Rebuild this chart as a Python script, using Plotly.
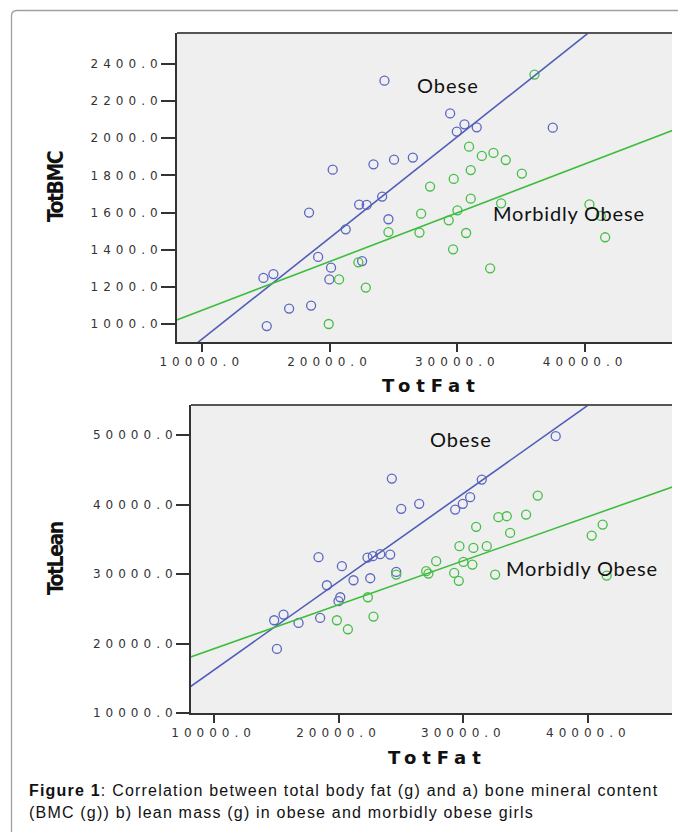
import plotly.graph_objects as go

W, H = 678, 832

# ---------------- data: panel a (TotFat vs TotBMC) ----------------
bmc_obese_fat = [24300, 29440, 30560, 31520, 29960, 37470, 20250, 23440, 25050, 26520,
                 24120, 22320, 22910, 18400, 24610, 21270, 19110, 22550, 20120, 15610,
                 14830, 19990, 16840, 18560, 15090]
bmc_obese_bmc = [2310, 2134, 2075, 2059, 2036, 2057, 1831, 1860, 1885, 1896,
                 1686, 1643, 1641, 1600, 1564, 1510, 1361, 1339, 1303, 1269,
                 1248, 1240, 1083, 1099, 989]
bmc_morbid_fat = [36040, 30920, 31920, 32830, 33790, 31050, 29720, 35050, 27870, 31050,
                  30010, 33430, 40340, 41230, 41570, 27170, 29330, 24610, 27040, 30690,
                  29670, 32570, 22260, 20750, 22840, 19940]
bmc_morbid_bmc = [2343, 1955, 1905, 1921, 1883, 1829, 1781, 1810, 1740, 1675,
                  1612, 1650, 1644, 1582, 1467, 1594, 1558, 1495, 1492, 1490,
                  1402, 1300, 1332, 1240, 1196, 1000]
# fit lines
fit_fat = [8000, 47000]
bmc_fit_obese = [808, 2935]
bmc_fit_morbid = [1020, 2047]

# ---------------- data: panel b (TotFat vs TotLean) ----------------
lean_obese_fat = [37390, 24270, 31470, 30540, 29950, 29340, 25020, 26460, 18400, 20270,
                  22320, 22750, 23340, 24140, 24620, 19070, 21200, 22540, 20140, 20000,
                  15600, 14850, 16800, 18530, 15070]
lean_obese_lean = [49860, 43760, 43610, 41070, 40110, 39290, 39390, 40110, 32430, 31130,
                   32380, 32570, 32860, 32810, 30310, 28390, 29110, 29400, 26660, 26090,
                   24170, 23350, 22970, 23690, 19220]
lean_morbid_fat = [35950, 35020, 33470, 32800, 31020, 33740, 41150, 40270, 29680, 30800,
                   31870, 30000, 30720, 27820, 27020, 29260, 29630, 32540, 41470, 24620,
                   27200, 22350, 19870, 20750, 22800]
lean_morbid_lean = [41310, 38570, 38330, 38190, 36800, 35930, 37130, 35550, 34010, 33770,
                    34010, 31750, 31370, 31850, 30410, 30170, 29020, 29930, 29780, 29930,
                    30070, 26660, 23350, 22050, 23880]
lean_fit_obese = [13604, 63259]
lean_fit_morbid = [17948, 42721]

# ---------------- ticks ----------------
fat_ticks = [10000, 20000, 30000, 40000]
bmc_ticks = [1000, 1200, 1400, 1600, 1800, 2000, 2200, 2400]
lean_ticks = [10000, 20000, 30000, 40000, 50000]

BLUE_M = "#5b67c2"
GREEN_M = "#45be45"
BLUE_L = "#4f5db8"
GREEN_L = "#3dbd3d"
AX = "#333333"


def tt(vals):
    return ['<span style="letter-spacing:5px">%.1f</span>' % v for v in vals]


def marker(c):
    return dict(symbol="circle-open", size=9, color=c, line=dict(width=1.3, color=c))


fig = go.Figure()

# panel a
fig.add_trace(go.Scatter(x=bmc_obese_fat, y=bmc_obese_bmc, mode="markers",
                         marker=marker(BLUE_M), xaxis="x", yaxis="y", showlegend=False))
fig.add_trace(go.Scatter(x=bmc_morbid_fat, y=bmc_morbid_bmc, mode="markers",
                         marker=marker(GREEN_M), xaxis="x", yaxis="y", showlegend=False))
fig.add_trace(go.Scatter(x=fit_fat, y=bmc_fit_obese, mode="lines",
                         line=dict(color=BLUE_L, width=1.6), xaxis="x", yaxis="y", showlegend=False))
fig.add_trace(go.Scatter(x=fit_fat, y=bmc_fit_morbid, mode="lines",
                         line=dict(color=GREEN_L, width=1.6), xaxis="x", yaxis="y", showlegend=False))

# panel b
fig.add_trace(go.Scatter(x=lean_obese_fat, y=lean_obese_lean, mode="markers",
                         marker=marker(BLUE_M), xaxis="x2", yaxis="y2", showlegend=False))
fig.add_trace(go.Scatter(x=lean_morbid_fat, y=lean_morbid_lean, mode="markers",
                         marker=marker(GREEN_M), xaxis="x2", yaxis="y2", showlegend=False))
fig.add_trace(go.Scatter(x=fit_fat, y=lean_fit_obese, mode="lines",
                         line=dict(color=BLUE_L, width=1.6), xaxis="x2", yaxis="y2", showlegend=False))
fig.add_trace(go.Scatter(x=fit_fat, y=lean_fit_morbid, mode="lines",
                         line=dict(color=GREEN_L, width=1.6), xaxis="x2", yaxis="y2", showlegend=False))

tickfont = dict(family="DejaVu Sans", size=12, color=AX)
common = dict(showgrid=False, zeroline=False, showline=True, linecolor=AX, linewidth=2,
              ticks="outside", tickwidth=2, tickcolor=AX, tickfont=tickfont, automargin=False)

px2x = lambda px: px / W
px2y = lambda py: 1 - py / H

fig.update_layout(
    template="none",
    width=W, height=H,
    margin=dict(l=0, r=0, t=0, b=0, pad=0, autoexpand=False),
    paper_bgcolor="white",
    plot_bgcolor="#efefef",
    hovermode=False,
    xaxis=dict(domain=[px2x(177), px2x(672)], range=[8067, 46800], anchor="y",
               tickvals=fat_ticks, ticktext=tt(fat_ticks), ticklen=8, **common),
    yaxis=dict(domain=[px2y(342), px2y(33)], range=[903, 2567], anchor="x",
               tickvals=bmc_ticks, ticktext=tt(bmc_ticks), ticklen=14,
               ticklabelstandoff=-4, **common),
    xaxis2=dict(domain=[px2x(191), px2x(672)], range=[8190, 46700], anchor="y2",
                tickvals=fat_ticks, ticktext=tt(fat_ticks), ticklen=8, **common),
    yaxis2=dict(domain=[px2y(713), px2y(405)], range=[9990, 54350], anchor="x2",
                tickvals=lean_ticks, ticktext=tt(lean_ticks), ticklen=13,
                ticklabelstandoff=-4, **common),
)

shapes = [
    # top frame lines of the plot areas
    dict(type="line", xref="paper", yref="paper", x0=px2x(177), x1=px2x(672),
         y0=px2y(33), y1=px2y(33), line=dict(color="#555555", width=2)),
    dict(type="line", xref="paper", yref="paper", x0=px2x(191), x1=px2x(672),
         y0=px2y(405), y1=px2y(405), line=dict(color="#555555", width=2)),
    # outer figure border with rounded corner
    dict(type="path", xref="paper", yref="paper",
         path="M %f,%f L %f,%f Q %f,%f %f,%f L %f,%f" % (
             px2x(11.5), px2y(832), px2x(11.5), px2y(16),
             px2x(11.5), px2y(10.5), px2x(17), px2y(10.5),
             px2x(678), px2y(10.5)),
         line=dict(color="#a0a0a0", width=1.3)),
]
fig.update_layout(shapes=shapes)

lab_font = dict(family="Lato, Open Sans", size=20, color="#111111")
ytitle_font = dict(family="DejaVu Sans", size=21, color="#111111")
xtitle_font = dict(family="DejaVu Sans", size=18, color="#111111")

C = dict(xanchor="center", yanchor="middle", showarrow=False)

ann = [
    dict(x=29300, y=2289, xref="x", yref="y", text='<span style="letter-spacing:1px">Obese</span>',
         font=lab_font, **C),
    dict(x=38750, y=1596, xref="x", yref="y",
         text='<span style="letter-spacing:0.8px">Morbidly Obese</span>',
         font=lab_font, **C),
    dict(x=29790, y=49470, xref="x2", yref="y2", text='<span style="letter-spacing:1px">Obese</span>',
         font=lab_font, **C),
    dict(x=39470, y=30890, xref="x2", yref="y2",
         text='<span style="letter-spacing:0.8px">Morbidly Obese</span>',
         font=lab_font, **C),
    # axis titles
    dict(x=px2x(431), y=px2y(385), xref="paper", yref="paper",
         text='<b><span style="letter-spacing:6px">TotFat</span></b>', font=xtitle_font, **C),
    dict(x=px2x(437), y=px2y(757), xref="paper", yref="paper",
         text='<b><span style="letter-spacing:6px">TotFat</span></b>', font=xtitle_font, **C),
    dict(x=px2x(56), y=px2y(187), xref="paper", yref="paper", textangle=-90,
         text='<b><span style="font-stretch:condensed;letter-spacing:-1.5px">TotBMC</span></b>',
         font=ytitle_font, **C),
    dict(x=px2x(56), y=px2y(559), xref="paper", yref="paper", textangle=-90,
         text='<b><span style="font-stretch:condensed;letter-spacing:-1.5px">TotLean</span></b>',
         font=ytitle_font, **C),
    # caption
    dict(x=px2x(27), y=px2y(790), xref="paper", yref="paper", showarrow=False,
         xanchor="left", yanchor="middle", align="left",
         text='<span style="letter-spacing:1.2px"><b>Figure 1</b>: Correlation between total body fat (g) and a) bone mineral content</span>',
         font=dict(family="Liberation Sans", size=16, color="#111111")),
    dict(x=px2x(27), y=px2y(812), xref="paper", yref="paper", showarrow=False,
         xanchor="left", yanchor="middle", align="left",
         text='<span style="letter-spacing:1.2px">(BMC (g)) b) lean mass (g) in obese and morbidly obese girls</span>',
         font=dict(family="Liberation Sans", size=16, color="#111111")),
]
fig.update_layout(annotations=ann)

fig.write_html("out.html", config={"displayModeBar": False, "responsive": False},
               post_script="document.body.style.margin='0px';document.body.style.overflow='hidden';")
